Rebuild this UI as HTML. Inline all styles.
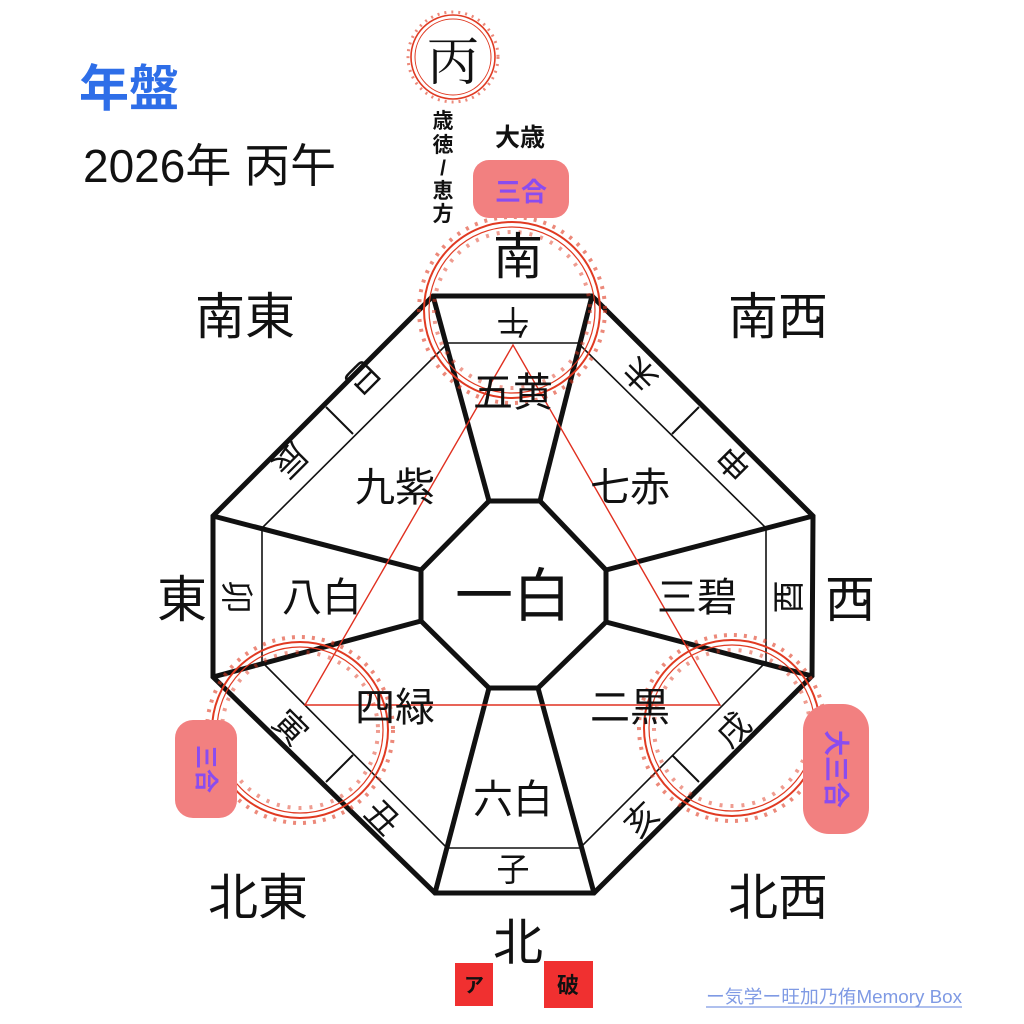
<!DOCTYPE html>
<html><head><meta charset="utf-8"><style>
html,body{margin:0;padding:0;background:#fff;}
body{width:1024px;height:1024px;overflow:hidden;position:relative;}
svg{position:absolute;left:0;top:0;}
text{font-family:"Liberation Sans","Noto Sans CJK JP",sans-serif;}
</style></head><body>
<svg width="1024" height="1024" viewBox="0 0 1024 1024" xmlns="http://www.w3.org/2000/svg">
<!-- title -->
<text x="79" y="106" font-size="50" font-weight="bold" fill="#2e6ee8">年盤</text>
<text x="83" y="182" font-size="46" fill="#111">2026年 丙午</text>

<!-- octagon structure -->
<g stroke="#111" fill="none" stroke-linejoin="miter">
  <polygon points="433,296 592,296 813,516 812,676 594,893 435,893 213,677 213,516" stroke-width="5"/>
  <polygon points="489,501 540,501 606,570 606,622 538,688 489,688 421,621 421,570" stroke-width="5"/>
  <polygon points="448,343 578,343 766,528 766,662 580,848 447,848 262,662 262,528" stroke-width="1.6"/>
  <g stroke-width="5">
    <line x1="433" y1="296" x2="489" y2="501"/>
    <line x1="592" y1="296" x2="540" y2="501"/>
    <line x1="813" y1="516" x2="606" y2="570"/>
    <line x1="812" y1="676" x2="606" y2="622"/>
    <line x1="594" y1="893" x2="538" y2="688"/>
    <line x1="435" y1="893" x2="489" y2="688"/>
    <line x1="213" y1="677" x2="421" y2="621"/>
    <line x1="213" y1="516" x2="421" y2="570"/>
  </g>
  <g stroke-width="2">
    <line x1="326" y1="407" x2="353" y2="434"/>
    <line x1="699" y1="407" x2="672" y2="434"/>
    <line x1="326" y1="782" x2="353" y2="755"/>
    <line x1="699" y1="782" x2="672" y2="755"/>
  </g>
</g>

<!-- red triangle -->
<polygon points="513,345 305,705 720,705" fill="none" stroke="#e03020" stroke-width="1.4"/>

<!-- wreaths -->
<g fill="none" stroke="#e03a22">
  <g transform="translate(512,310)">
    <circle r="88" stroke-width="2"/><circle r="83" stroke-width="1.2"/>
    <circle r="93" stroke-width="4" stroke-dasharray="3 7" opacity="0.6"/>
    <circle r="78" stroke-width="4" stroke-dasharray="3 8" opacity="0.5"/>
  </g>
  <g transform="translate(300,730)">
    <circle r="88" stroke-width="2"/><circle r="83" stroke-width="1.2"/>
    <circle r="93" stroke-width="4" stroke-dasharray="3 7" opacity="0.6"/>
    <circle r="78" stroke-width="4" stroke-dasharray="3 8" opacity="0.5"/>
  </g>
  <g transform="translate(732,728)">
    <circle r="88" stroke-width="2"/><circle r="83" stroke-width="1.2"/>
    <circle r="93" stroke-width="4" stroke-dasharray="3 7" opacity="0.6"/>
    <circle r="78" stroke-width="4" stroke-dasharray="3 8" opacity="0.5"/>
  </g>
  <g transform="translate(453,57)">
    <circle r="42" stroke-width="1.6"/><circle r="38" stroke-width="1"/>
    <circle r="45" stroke-width="3" stroke-dasharray="2 5" opacity="0.6"/>
  </g>
</g>

<!-- top labels -->
<text x="453" y="80" font-size="52" text-anchor="middle" fill="#111" style="font-family:'Liberation Serif','Noto Serif CJK SC',serif">丙</text>
<g font-size="21" font-weight="bold" fill="#111" text-anchor="middle">
  <text x="443" y="128">歳</text><text x="443" y="152">徳</text>
  <text x="443" y="175">/</text><text x="443" y="198">恵</text><text x="443" y="221">方</text>
</g>
<text x="520" y="146" font-size="25" font-weight="bold" text-anchor="middle" fill="#111">大歳</text>
<rect x="473" y="160" width="96" height="58" rx="16" fill="#f28080"/>
<text x="521" y="201" font-size="26" font-weight="bold" text-anchor="middle" fill="#8a4cf0">三合</text>

<!-- side pink boxes -->
<rect x="175" y="720" width="62" height="98" rx="18" fill="#f28080"/>
<text transform="translate(206,769) rotate(90)" font-size="24" font-weight="bold" text-anchor="middle" dy="8" fill="#8a4cf0">三合</text>
<rect x="803" y="704" width="66" height="130" rx="26" fill="#f28080"/>
<text transform="translate(836,769) rotate(90)" font-size="26" font-weight="bold" text-anchor="middle" dy="9" fill="#8a4cf0">大三合</text>

<!-- direction labels -->
<g font-size="50" fill="#111" text-anchor="middle">
  <text x="518" y="274">南</text>
  <text x="245" y="334">南東</text>
  <text x="778" y="334">南西</text>
  <text x="182" y="617">東</text>
  <text x="850" y="617">西</text>
  <text x="258" y="915">北東</text>
  <text x="778" y="915">北西</text>
  <text x="518" y="960">北</text>
</g>

<!-- star labels -->
<g font-size="40" fill="#111" text-anchor="middle">
  <text x="513" y="406">五黄</text>
  <text x="395" y="501">九紫</text>
  <text x="630" y="501">七赤</text>
  <text x="322" y="611">八白</text>
  <text x="697" y="611">三碧</text>
  <text x="395" y="721">四緑</text>
  <text x="630" y="721">二黒</text>
  <text x="513" y="813">六白</text>
</g>
<text x="513" y="616" font-size="58" text-anchor="middle" fill="#111">一白</text>

<!-- branches -->
<g font-size="33" fill="#111" text-anchor="middle">
  <text transform="translate(513,321) rotate(180)" dy="11">午</text>
  <text transform="translate(362,377) rotate(135)" dy="11">巳</text>
  <text transform="translate(290,460) rotate(135)" dy="11">辰</text>
  <text transform="translate(236,597) rotate(90)" dy="11">卯</text>
  <text transform="translate(290,728) rotate(45)" dy="11">寅</text>
  <text transform="translate(382,818) rotate(45)" dy="11">丑</text>
  <text transform="translate(513,870)" dy="11">子</text>
  <text transform="translate(642,820) rotate(-45)" dy="11">亥</text>
  <text transform="translate(734,730) rotate(-45)" dy="11">戌</text>
  <text transform="translate(789,597) rotate(-90)" dy="11">酉</text>
  <text transform="translate(735,462) rotate(-135)" dy="11">申</text>
  <text transform="translate(641,374) rotate(-135)" dy="11">未</text>
</g>

<!-- bottom -->
<rect x="455" y="963" width="38" height="43" fill="#f03030"/>
<text x="474" y="992" font-size="20" font-weight="bold" text-anchor="middle" fill="#111">ア</text>
<rect x="544" y="961" width="49" height="47" fill="#f03030"/>
<text x="568" y="993" font-size="22" font-weight="bold" text-anchor="middle" fill="#111">破</text>
<text x="706" y="1003" font-size="18" fill="#7f9ae4" textLength="256" lengthAdjust="spacingAndGlyphs">ー気学ー旺加乃侑Memory Box</text>
<line x1="706" y1="1007" x2="962" y2="1007" stroke="#7f9ae4" stroke-width="1.2"/>
</svg>
</body></html>
